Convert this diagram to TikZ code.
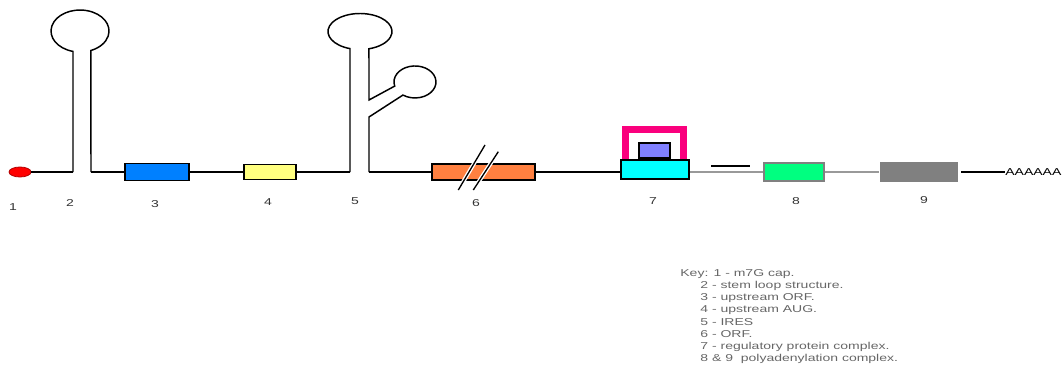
\documentclass[tikz,border=0pt]{standalone}
\usepackage{fontspec}
\setsansfont{Liberation Sans}
\usetikzlibrary{shapes.geometric}

\definecolor{uorfblue}{RGB}{0,128,255}
\definecolor{augyellow}{RGB}{255,255,128}
\definecolor{orforange}{RGB}{255,128,64}
\definecolor{bracketpink}{RGB}{250,0,125}
\definecolor{protviolet}{RGB}{128,128,255}
\definecolor{regcyan}{RGB}{0,255,255}
\definecolor{polygreen}{RGB}{0,255,128}

\begin{document}
\begin{tikzpicture}[x=0.75pt,y=0.75pt,
  strand/.style={line width=1.1pt},
  gene/.style={rectangle,draw,line width=1.2pt,inner sep=0pt},
  lbl/.style={font=\sffamily\fontsize{7.5}{9}\selectfont,text=black!80,xscale=1.4,transform shape},
  keytext/.style={lbl,anchor=west,inner sep=0pt,text=black!60}]
  \useasboundingbox (0,0) rectangle (1064,365);

  % cap and boxes
  \node[ellipse,fill=red,draw=red!70!black,line width=0.6pt,minimum width=16.5pt,minimum height=7.5pt,inner sep=0pt] (cap) at (20,193) {};
  \node[gene,fill=uorfblue,minimum width=48pt,minimum height=12.75pt] (uorf) at (157,193) {};
  \node[gene,fill=augyellow,minimum width=39pt,minimum height=11.25pt] (aug) at (270,193) {};
  \node[gene,fill=orforange,minimum width=77.25pt,minimum height=12pt] (orf) at (483.5,193) {};
  \draw[bracketpink,line width=5.25pt] (625.5,205) -- (625.5,235.5) -- (683.5,235.5) -- (683.5,205);
  \node[gene,fill=regcyan,minimum width=51pt,minimum height=14.25pt] (reg) at (655,195.5) {};
  \node[gene,fill=protviolet,minimum width=23.25pt,minimum height=11.25pt] (prot) at (654.5,214.5) {};
  \node[gene,draw=gray,fill=polygreen,minimum width=45pt,minimum height=13.5pt] (pa8) at (794,193) {};
  \node[gene,draw=none,fill=black!50,minimum width=58.5pt,minimum height=15pt] (pa9) at (919,193) {};
  \node[font=\sffamily\fontsize{7.5}{9}\selectfont,xscale=1.4,transform shape,anchor=west,inner sep=0pt] (tail) at (1005,193) {AAAAAA};

  % stem loops
  \coordinate (s2l) at (73,193);
  \coordinate (s2r) at (91,193);
  \coordinate (s5l) at (350,193);
  \coordinate (s5r) at (369,193);
  \draw[strand] (s2l) -- (73,313.6) arc[start angle=256,end angle=-68,x radius=29,y radius=21] -- (s2r);
  \draw[strand] (s5l) -- (350,316.4) arc[start angle=251.8,end angle=-73.7,x radius=32,y radius=18]
    -- (369,265) -- (394.7,278.9) arc[start angle=195,end angle=-125,x radius=21,y radius=16]
    -- (369,248) -- (s5r);

  % backbone
  \draw[strand] (cap) -- (s2l);
  \draw[strand] (s2r) -- (uorf);
  \draw[strand] (uorf) -- (aug);
  \draw[strand] (aug) -- (s5l);
  \draw[strand] (s5r) -- (orf);
  \draw[strand] (orf.east) -- (orf.east -| reg.west);
  \draw[strand,black!40] (orf.east -| reg.east) -- (pa8.west);
  \draw[strand,black!40] (pa8) -- (pa9);
  \draw[strand] ([xshift=2pt]pa9.east) -- (tail);
  \draw[line width=1.5pt] (711,199) -- (750,199);

  % break marks
  \draw[white,line width=3pt] (458.3,175) -- (485,220) (473.3,175) -- (498.3,213.3);
  \draw[line width=1pt] (458.3,175) -- (485,220) (473.3,175) -- (498.3,213.3);

  % labels
  \foreach \n/\x/\y in {1/13/158,2/70/162,3/155/161,4/268/163,5/355/164,6/476/162,7/653/164,8/796/164,9/924/165}
    \node[lbl] (l\n) at (\x,\y) {\n};

  % key
  \node[keytext] (k1) at (680,91) {Key: 1 - m7G cap.};
  \foreach \i/\t in {2/2 - stem loop structure.,3/3 - upstream ORF.,4/4 - upstream AUG.,5/5 - IRES,6/6 - ORF.,7/7 - regulatory protein complex.,8/8 \& 9\ \ polyadenylation complex.}
    \node[keytext] (k\i) at (700,{91-12.1*(\i-1)}) {\t};
\end{tikzpicture}
\end{document}
